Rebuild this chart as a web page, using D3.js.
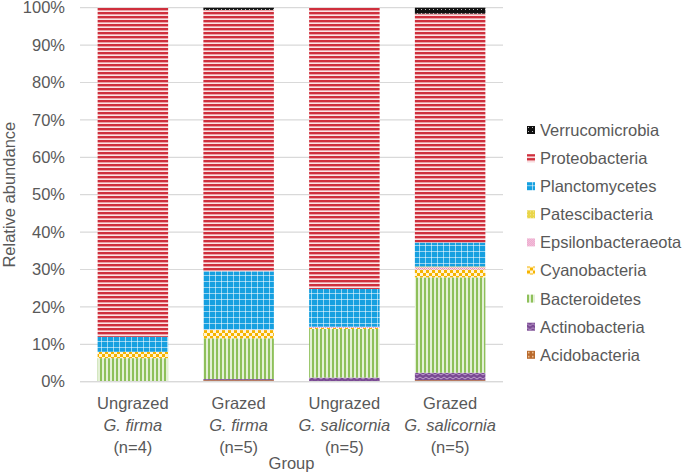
<!DOCTYPE html>
<html><head><meta charset="utf-8">
<script src="https://cdn.jsdelivr.net/npm/d3@7"></script>
<style>body{margin:0;background:#fff;} text{font-family:"Liberation Sans",Arial,sans-serif;fill:#595959;}</style>
</head><body><svg id="c" width="685" height="475"></svg>
<script>
const groups = ["Ungrazed|G. firma|(n=4)", "Grazed|G. firma|(n=5)", "Ungrazed|G. salicornia|(n=5)", "Grazed|G. salicornia|(n=5)"];
const phyla = ["Acidobacteria","Actinobacteria","Bacteroidetes","Cyanobacteria","Epsilonbacteraeota","Patescibacteria","Planctomycetes","Proteobacteria","Verrucomicrobia"];
const acidobacteria   = [0,   0.4, 0.1, 0.4];
const actinobacteria  = [0,   0.3, 1.0, 2.0];
const bacteroidetes   = [6.3, 10.9, 13.0, 25.5];
const cyanobacteria   = [1.7, 2.2, 0.3, 2.1];
const epsilon         = [0,   0.1, 0.3, 0.6];
const patescibacteria = [0,   0,   0,   0.2];
const planctomycetes  = [4.0, 15.6, 10.1, 6.4];
const proteobacteria  = [88.0, 69.9, 75.2, 61.2];
const verrucomicrobia = [0,   0.6, 0,   1.6];
const yTicks = [0,10,20,30,40,50,60,70,80,90,100];

const seriesVals = [acidobacteria, actinobacteria, bacteroidetes, cyanobacteria, epsilon, patescibacteria, planctomycetes, proteobacteria, verrucomicrobia];
const table = groups.map((g,i)=>{const o={group:g}; phyla.forEach((p,j)=>o[p]=seriesVals[j][i]); return o;});

const svg = d3.select("#c");
const defs = svg.append("defs");
function pat(id,w,h,draw){const p=defs.append("pattern").attr("id",id).attr("patternUnits","userSpaceOnUse").attr("width",w).attr("height",h);draw(p);}
pat("p_Proteobacteria",4,4,p=>{p.append("rect").attr("width",4).attr("height",4).attr("fill","#f7d0d3");p.append("rect").attr("y",0).attr("width",4).attr("height",2.3).attr("fill","#cf2f3c");p.append("rect").attr("y",3.2).attr("width",4).attr("height",0.8).attr("fill","#fbe8e9");});
pat("p_Planctomycetes",6,6,p=>{p.append("rect").attr("width",6).attr("height",6).attr("fill","#16a0e0");p.append("rect").attr("x",5).attr("width",1).attr("height",6).attr("fill","#ffffff").attr("opacity",0.55);p.append("rect").attr("y",5).attr("width",6).attr("height",1).attr("fill","#ffffff").attr("opacity",0.55);});
pat("p_Cyanobacteria",6,6,p=>{p.append("rect").attr("width",6).attr("height",6).attr("fill","#fff4d6");p.append("rect").attr("width",3).attr("height",3).attr("fill","#f6b400");p.append("rect").attr("x",3).attr("y",3).attr("width",3).attr("height",3).attr("fill","#f6b400");});
pat("p_Bacteroidetes",4,4,p=>{p.append("rect").attr("width",4).attr("height",4).attr("fill","#e3f0d5");p.append("rect").attr("width",2).attr("height",4).attr("fill","#8ec05a");});
pat("p_Actinobacteria",6,4,p=>{p.append("rect").attr("width",6).attr("height",4).attr("fill","#7a4a93");p.append("path").attr("d","M0,1 L3,3 L6,1").attr("stroke","#c6a9d6").attr("stroke-width",0.9).attr("fill","none");});
pat("p_Acidobacteria",4,4,p=>{p.append("rect").attr("width",4).attr("height",4).attr("fill","#b86a2e");p.append("rect").attr("x",1).attr("y",1).attr("width",1.5).attr("height",1.5).attr("fill","#f3c89a");});
pat("p_Epsilonbacteraeota",2,2,p=>{p.append("rect").attr("width",2).attr("height",2).attr("fill","#fbe0ee");p.append("rect").attr("width",1).attr("height",1).attr("fill","#e58bbb");p.append("rect").attr("x",1).attr("y",1).attr("width",1).attr("height",1).attr("fill","#e58bbb");});
pat("p_Patescibacteria",3,3,p=>{p.append("rect").attr("width",3).attr("height",3).attr("fill","#e9d54a");p.append("rect").attr("width",1).attr("height",1).attr("fill","#f5ea9c");});
pat("p_Verrucomicrobia",4,4,p=>{p.append("rect").attr("width",4).attr("height",4).attr("fill","#111111");p.append("rect").attr("x",1).attr("y",1).attr("width",1).attr("height",1).attr("fill","#bbbbbb");});

const L=80, R=503, T=7.7, B=381.7;
const x = d3.scaleBand().domain(groups).range([L,R]).paddingInner(1/3).paddingOuter(1/6);
const y = d3.scaleLinear().domain([0,100]).range([B,T]);

// gridlines
svg.append("g").selectAll("line").data(yTicks).join("line")
  .attr("x1",L).attr("x2",R).attr("y1",d=>y(d)).attr("y2",d=>y(d))
  .attr("stroke","#d9d9d9").attr("stroke-width",1.2);

// y axis tick labels
const yAxis = d3.axisLeft(y).tickValues(yTicks).tickFormat(d=>d+"%").tickSize(0).tickPadding(0);
const ya = svg.append("g").attr("transform",`translate(${65},0)`).call(yAxis);
ya.select(".domain").remove();
ya.selectAll("text").style("font-size","16.5px").attr("fill","#595959").attr("font-family","Liberation Sans, Arial, sans-serif");

// stacks
const stack = d3.stack().keys(phyla)(table);
svg.append("g").selectAll("g").data(stack).join("g")
  .attr("fill",d=>`url(#p_${d.key})`)
  .selectAll("rect").data(d=>d).join("rect")
  .attr("x",d=>x(d.data.group)).attr("width",x.bandwidth())
  .attr("y",d=>y(d[1])).attr("height",d=>Math.max(0,y(d[0])-y(d[1])));

// x axis line
svg.append("line").attr("x1",L).attr("x2",R).attr("y1",B).attr("y2",B).attr("stroke","#d9d9d9").attr("stroke-width",1.2);

// x labels
const xl = svg.append("g");
groups.forEach(g=>{
  const parts=g.split("|"); const cx=x(g)+x.bandwidth()/2;
  const t=xl.append("text").attr("text-anchor","middle").style("font-size","16.5px");
  t.append("tspan").attr("x",cx).attr("y",409).text(parts[0]);
  t.append("tspan").attr("x",cx).attr("y",431).attr("font-style","italic").text(parts[1]);
  t.append("tspan").attr("x",cx).attr("y",453).text(parts[2]);
});
svg.append("text").attr("x",(L+R)/2).attr("y",469).attr("text-anchor","middle").style("font-size","16.5px").text("Group");
svg.append("text").attr("transform",`translate(15,${(T+B)/2}) rotate(-90)`).attr("text-anchor","middle").style("font-size","16.5px").text("Relative abundance");

// legend
const legendOrder = phyla.slice().reverse();
const lg = svg.append("g").selectAll("g").data(legendOrder).join("g")
  .attr("transform",(d,i)=>`translate(527,${130+i*28.1})`);
lg.append("rect").attr("x",0).attr("y",-4).attr("width",8).attr("height",8).attr("fill",d=>`url(#p_${d})`);
lg.append("text").attr("x",13).attr("y",0).attr("dy","0.36em").style("font-size","16.5px").text(d=>d);
</script></body></html>
